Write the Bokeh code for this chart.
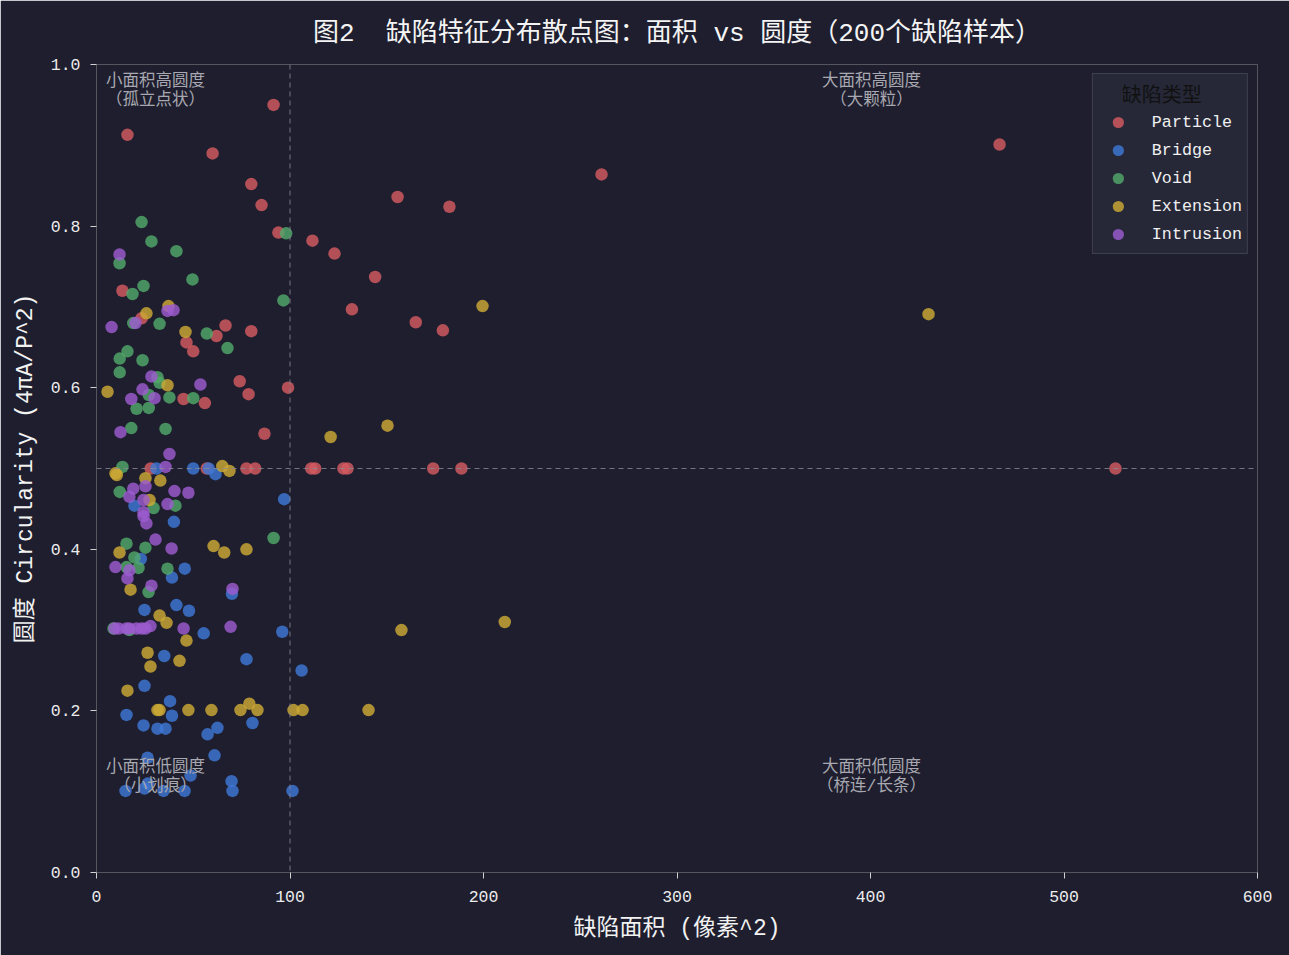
from bokeh.plotting import figure
from bokeh.models import Span, Legend, LegendItem, FixedTicker, ColumnDataSource
from bokeh.embed import file_html
from bokeh.resources import INLINE
from bokeh.core.properties import value

FONT = "'Liberation Mono', 'Noto Sans CJK SC', monospace"

categories = ["Particle", "Bridge", "Void", "Extension", "Intrusion"]
colors = ["#D45A60", "#3E78D6", "#52A86A", "#CDA934", "#9C5CD0"]

particle_x = [91.5, 16, 60, 80, 85.3, 94, 111.6, 123, 144, 132, 165, 179, 261, 155.6, 182.4, 466.7,
              526.6, 174, 188.6, 111, 113, 127.6, 129.7, 99, 86.8, 78.6, 74, 80, 66.7, 62, 46.5, 50,
              56, 45, 23.3, 13.4, 77.5, 82, 28, 57]
particle_y = [0.95, 0.913, 0.89, 0.852, 0.826, 0.792, 0.782, 0.766, 0.737, 0.697, 0.681, 0.671, 0.864,
              0.836, 0.824, 0.901, 0.5, 0.5, 0.5, 0.5, 0.5, 0.5, 0.5, 0.6, 0.543, 0.592, 0.608, 0.67,
              0.677, 0.664, 0.656, 0.645, 0.581, 0.586, 0.686, 0.72, 0.5, 0.5, 0.5, 0.5]

bridge_x = [97, 96, 106, 101.3, 19.6, 40, 22.9, 45.6, 39, 70, 24.8, 41.3, 47.8, 55.4, 77.5, 35, 24.8,
            31, 50, 58, 61.5, 38, 15.5, 39, 24.3, 31.5, 35.7, 80.6, 62.5, 57.4, 26.4, 61, 48.6, 69.8,
            15, 24.8, 34.6, 45.5, 70.3, 26.5]
bridge_y = [0.462, 0.298, 0.25, 0.101, 0.454, 0.434, 0.388, 0.376, 0.365, 0.345, 0.325, 0.331, 0.324,
            0.296, 0.264, 0.268, 0.231, 0.5, 0.5, 0.5, 0.493, 0.212, 0.195, 0.194, 0.182, 0.178, 0.178,
            0.185, 0.179, 0.171, 0.142, 0.145, 0.12, 0.113, 0.101, 0.104, 0.101, 0.101, 0.101, 0.11]

void_x = [23.3, 28.4, 41.3, 11.9, 49.6, 24.3, 18.6, 96.6, 98, 19, 32.6, 57, 67.7, 16, 12, 23.8, 12,
          31.5, 32.6, 27, 37.7, 50, 20.7, 27, 18, 35.7, 13.4, 12, 29.5, 40.8, 15.5, 25.3, 19.6, 15.5,
          21.7, 36.7, 91.5, 26.9, 8.8, 17]
void_y = [0.805, 0.781, 0.769, 0.754, 0.734, 0.726, 0.716, 0.708, 0.791, 0.68, 0.679, 0.667, 0.649,
          0.645, 0.636, 0.634, 0.619, 0.613, 0.606, 0.591, 0.588, 0.587, 0.574, 0.575, 0.55, 0.549,
          0.502, 0.471, 0.451, 0.454, 0.407, 0.402, 0.39, 0.378, 0.377, 0.376, 0.414, 0.347, 0.302, 0.3]

extension_x = [199.5, 430, 150.4, 121, 157.6, 211, 140.6, 101.8, 106.5, 16, 31.5, 32.6, 47.5, 59.4,
               74.4, 79, 83.2, 27.4, 11.9, 60.5, 66, 77.5, 17.6, 32.6, 36.2, 46.5, 26.4, 42.9, 27.9,
               25.8, 37.2, 46, 5.7, 36.7, 65, 68.7, 9.8, 25.3, 33, 10.5]
extension_y = [0.701, 0.691, 0.553, 0.539, 0.3, 0.31, 0.201, 0.201, 0.201, 0.225, 0.201, 0.201, 0.201,
               0.201, 0.201, 0.209, 0.201, 0.461, 0.396, 0.404, 0.396, 0.4, 0.35, 0.318, 0.309, 0.287,
               0.272, 0.262, 0.255, 0.692, 0.701, 0.669, 0.595, 0.603, 0.503, 0.497, 0.494, 0.488,
               0.485, 0.492]

intrusion_x = [11.9, 7.8, 20.2, 36.7, 39.8, 28.4, 53.7, 23.8, 18, 30, 12.4, 37.7, 35.7, 19, 25.3, 40.3,
               47.5, 17, 24.3, 36.7, 24.3, 24.3, 25.8, 30.5, 38.8, 9.8, 17, 16, 28.4, 70.3, 27.9, 9.3,
               11.4, 15.5, 17, 20.7, 23.3, 25.3, 45, 69.3]
intrusion_y = [0.765, 0.675, 0.68, 0.695, 0.696, 0.614, 0.604, 0.598, 0.586, 0.587, 0.545, 0.518, 0.502,
               0.475, 0.478, 0.472, 0.47, 0.465, 0.461, 0.456, 0.446, 0.441, 0.432, 0.412, 0.401, 0.378,
               0.374, 0.364, 0.355, 0.351, 0.305, 0.302, 0.302, 0.302, 0.302, 0.302, 0.302, 0.302,
               0.302, 0.304]

series = [(particle_x, particle_y), (bridge_x, bridge_y), (void_x, void_y),
          (extension_x, extension_y), (intrusion_x, intrusion_y)]

x_ticks = [0, 100, 200, 300, 400, 500, 600]
y_ticks = [0.0, 0.2, 0.4, 0.6, 0.8, 1.0]
area_threshold = 100
circ_threshold = 0.5

quad_x = [30.5, 400.5, 30.5, 400.5]
quad_y = [0.991, 0.991, 0.142, 0.142]
quad_text = ["小面积高圆度\n（孤立点状）", "大面积高圆度\n（大颗粒）",
             "小面积低圆度\n（小划痕）", "大面积低圆度\n（桥连/长条）"]

BG = "#1e1e2e"

p = figure(width=1289, height=955, output_backend="svg", toolbar_location=None,
           x_range=(0, 600), y_range=(0, 1.0),
           background_fill_color=BG, border_fill_color=BG,
           min_border_left=96, min_border_right=32, min_border_top=63, min_border_bottom=83)

p.title.text = "图2\u00a0\u00a0缺陷特征分布散点图：面积\u00a0vs\u00a0圆度（200个缺陷样本）"
p.title.align = "center"
p.title.text_color = "#f4f4f4"
p.title.text_font = FONT
p.title.text_font_size = "26px"
p.title.text_font_style = "normal"
p.title.standoff = 32

p.grid.visible = False
p.outline_line_color = "#55555f"
p.outline_line_width = 1

for ax in (p.xaxis, p.yaxis):
    ax.axis_line_color = "#55555f"
    ax.major_tick_line_color = "#d0d0d0"
    ax.minor_tick_line_color = None
    ax.major_tick_out = 6
    ax.major_tick_in = 0
    ax.major_label_text_color = "#ececec"
    ax.major_label_text_font = FONT
    ax.major_label_text_font_size = "16.5px"
    ax.axis_label_text_color = "#f2f2f2"
    ax.axis_label_text_font = FONT
    ax.axis_label_text_font_size = "23px"
    ax.axis_label_text_font_style = "normal"

p.xaxis.major_label_standoff = 12
p.yaxis.major_label_standoff = 10
p.xaxis.axis_label_standoff = 11
p.yaxis.axis_label_standoff = 9

p.xaxis.ticker = FixedTicker(ticks=x_ticks)
p.yaxis.ticker = FixedTicker(ticks=y_ticks)
p.yaxis.major_label_overrides = {t: f"{t:.1f}" for t in y_ticks}
p.xaxis.axis_label = "缺陷面积 (像素^2)"
p.yaxis.axis_label = "圆度 Circularity (4πA/P^2)"

p.add_layout(Span(location=area_threshold, dimension="height", line_color="#8a8a96",
                  line_dash="5 4", line_width=1, line_alpha=0.8))
p.add_layout(Span(location=circ_threshold, dimension="width", line_color="#8a8a96",
                  line_dash="5 4", line_width=1, line_alpha=0.8))

items = []
for name, col, (xs, ys) in zip(categories, colors, series):
    src = ColumnDataSource(dict(x=xs, y=ys))
    r = p.scatter("x", "y", source=src, size=12.5, fill_color=col, fill_alpha=0.82,
                  line_color=None)
    items.append(LegendItem(label=name, renderers=[r]))

qsrc = ColumnDataSource(dict(x=quad_x, y=quad_y, t=quad_text))
p.text("x", "y", text="t", source=qsrc, text_align="center", text_baseline="top",
       text_color="#a8a8b0", text_font=value(FONT), text_font_size="16.5px", text_line_height=1.0)

legend = Legend(items=items, location="top_right")
legend.title = "\u00a0\u00a0缺陷类型"
legend.title_text_color = "#111111"
legend.title_text_font = FONT
legend.title_text_font_size = "20px"
legend.title_text_font_style = "normal"
legend.title_standoff = 0
legend.label_text_color = "#f0f0f0"
legend.label_text_font = FONT
legend.label_text_font_size = "16.7px"
legend.background_fill_color = "#262838"
legend.background_fill_alpha = 1.0
legend.border_line_color = "#55556a"
legend.border_line_width = 1
legend.glyph_width = 40
legend.glyph_height = 28
legend.label_height = 28
legend.label_standoff = 14
legend.spacing = 0
legend.padding = 5
legend.margin = 9
p.add_layout(legend)

open("out.html", "w").write(file_html(p, INLINE))
